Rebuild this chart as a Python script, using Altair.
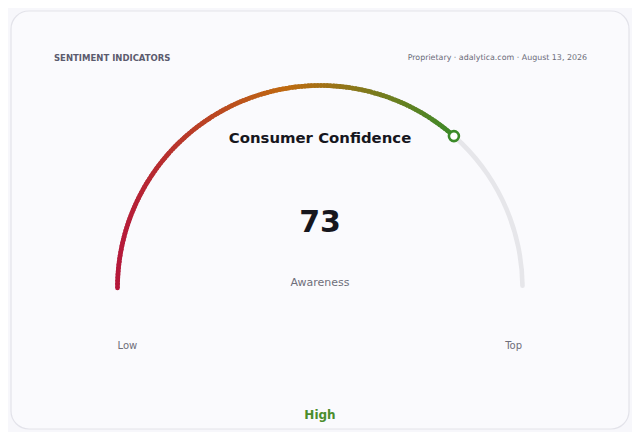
import math
import numpy as np
import pandas as pd
import altair as alt

# ---- data ----
VALUE = [73]
SCALE_RANGE = [0, 100]
HEADER_LEFT = ["SENTIMENT INDICATORS"]
HEADER_RIGHT = ["Proprietary · adalytica.com · August 13, 2026"]
TITLE = ["Consumer Confidence"]
METRIC = ["Awareness"]
END_LABELS = ["Low", "Top"]
BAND = ["High"]
GRADIENT = ["#b5173b", "#bf6a10", "#3b8a29"]

value = VALUE[0]
lo, hi = SCALE_RANGE

# ---- layout (canvas px) ----
CX, CY, R, W = 312, 280, 202.5, 4.6
FONT = "DejaVu Sans"

theta_scale = alt.Scale(domain=[lo, hi], range=[-math.pi / 2, math.pi / 2])

card = alt.Chart(pd.DataFrame({"k": [0]})).mark_rect(
    cornerRadius=18, fill="#fafafd", stroke="#e3e3ea", strokeWidth=1.2
).encode(x=alt.value(3), x2=alt.value(621), y=alt.value(3), y2=alt.value(421))

track = alt.Chart(pd.DataFrame({"t": [lo], "t2": [hi]})).mark_arc(
    radius=R + W / 2, radius2=R - W / 2, cornerRadius=W / 2, color="#e6e6ea"
).encode(
    theta=alt.Theta("t:Q", scale=theta_scale, stack=None),
    theta2="t2:Q",
    x=alt.value(CX), y=alt.value(CY),
)

# horizontal (screen-space) gradient over the filled part of the arc
end_ang = (value - lo) / (hi - lo) * math.pi - math.pi / 2
x_left = CX - R - W / 2
x_right = CX + R * math.sin(end_ang) + W / 2

step = 0.5
starts = np.arange(lo, value, step)
seg = pd.DataFrame({
    "t": starts,
    "t2": np.minimum(starts + step * 1.6, value),
    "m": starts + step / 2,
})
arc = alt.Chart(seg).transform_calculate(
    cx=f"{CX} + {R} * sin((datum.m - {lo}) / ({hi} - {lo}) * PI - PI / 2)"
).mark_arc(radius=R + W / 2, radius2=R - W / 2).encode(
    theta=alt.Theta("t:Q", scale=theta_scale, stack=None),
    theta2="t2:Q",
    color=alt.Color("cx:Q", scale=alt.Scale(domain=[x_left, (x_left + x_right) / 2, x_right],
                                            range=GRADIENT, interpolate="rgb"), legend=None),
    x=alt.value(CX), y=alt.value(CY),
)

def polar_point(v, **mk):
    return alt.Chart(pd.DataFrame({"v": [v]})).transform_calculate(
        ang=f"(datum.v - {lo}) / ({hi} - {lo}) * PI - PI / 2"
    ).transform_calculate(
        px=f"{CX} + {R} * sin(datum.ang)", py=f"{CY} - {R} * cos(datum.ang)"
    ).mark_point(filled=True, **mk).encode(
        x=alt.X("px:Q", scale=None, axis=None),
        y=alt.Y("py:Q", scale=None, axis=None),
    )

start_cap = polar_point(lo, size=W * W, color=GRADIENT[0], opacity=1, strokeWidth=0)
marker = polar_point(value, size=100, fill="white", stroke="#3b8a29", strokeWidth=2.6, opacity=1)


def txt(label, x, y, size, color, weight="normal", align="center"):
    return alt.Chart(pd.DataFrame({"s": [label]})).mark_text(
        x=x, y=y, fontSize=size, font=FONT, fontWeight=weight, color=color,
        align=align, baseline="alphabetic",
    ).encode(text="s:N")

texts = [
    txt(HEADER_LEFT[0], 46, 52.7, 8.5, "#5b5b6e", "bold", "left"),
    txt(HEADER_RIGHT[0], 579, 52.3, 7.9, "#6a6a78", "normal", "right"),
    txt(TITLE[0], 312, 135, 14.9, "#16161d", "bold"),
    txt(str(value), 312, 223.7, 30, "#16161d", "bold"),
    txt(METRIC[0], 312, 277.7, 11, "#6e6e7a"),
    txt(END_LABELS[0], 109.5, 341.3, 10, "#6e6e7a", "normal", "left"),
    txt(END_LABELS[1], 514, 341.3, 10, "#6e6e7a", "normal", "right"),
    txt(BAND[0], 312, 411.3, 12, "#4b8d2c", "bold"),
]

chart = alt.layer(card, track, arc, start_cap, marker, *texts).properties(
    width=624, height=424,
    autosize=alt.AutoSizeParams(type="none"),
    padding=0,
    background="#f7f7fb",
).configure_view(stroke=None)

chart.save("out.html", embed_options={"renderer": "svg", "actions": False})
